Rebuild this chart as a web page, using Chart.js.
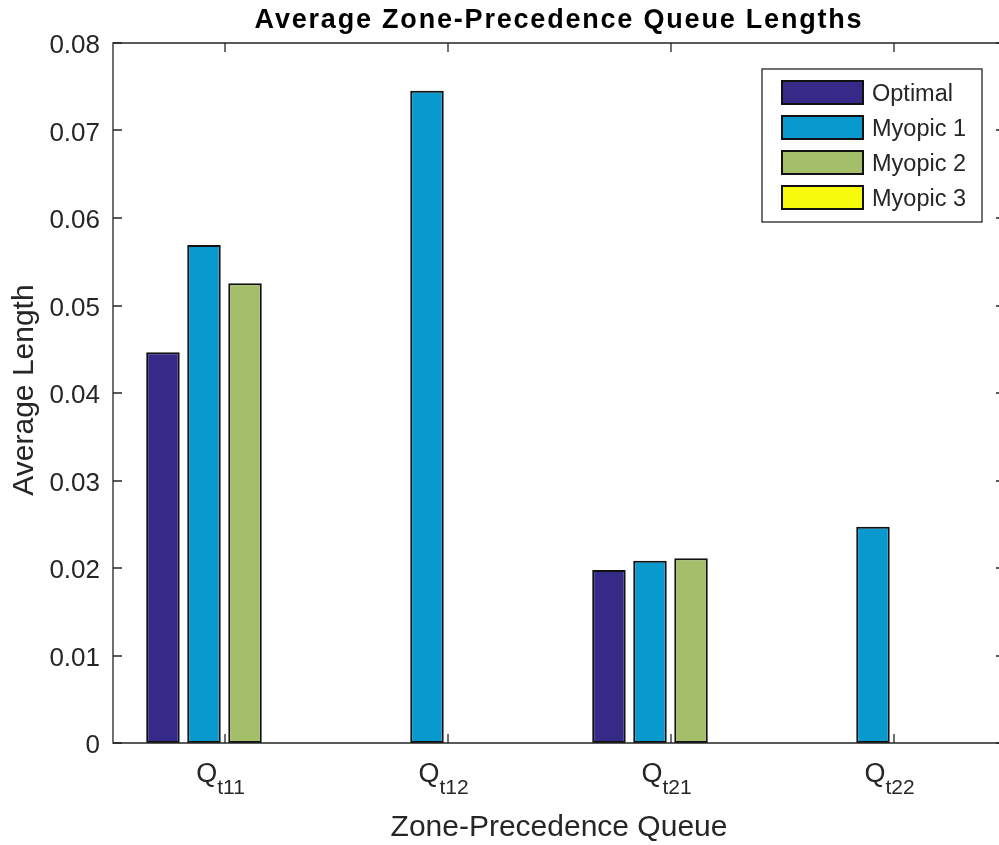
<!DOCTYPE html>
<html>
<head>
<meta charset="utf-8">
<script src="https://cdn.jsdelivr.net/npm/chart.js@4.4.1/dist/chart.umd.min.js"></script>
<style>
  html, body { margin: 0; padding: 0; background: #ffffff; overflow: hidden; }
  #wrap { width: 999px; height: 845px; overflow: hidden; }
</style>
</head>
<body>
<div id="wrap"><canvas id="c" width="1010" height="845"></canvas></div>
<script>
// ---- data ----
const queueMain = ['Q', 'Q', 'Q', 'Q'];
const queueSubs = ['t11', 't12', 't21', 't22'];
const seriesNames = ['Optimal', 'Myopic 1', 'Myopic 2', 'Myopic 3'];
const optimalVals = [0.04465, 0, 0.01977, 0];
const myopic1Vals = [0.05691, 0.07455, 0.02083, 0.02472];
const myopic2Vals = [0.05253, 0, 0.02111, 0];
const myopic3Vals = [0, 0, 0, 0];
const yTickValues = [0, 0.01, 0.02, 0.03, 0.04, 0.05, 0.06, 0.07, 0.08];
const titleText = 'Average Zone-Precedence Queue Lengths';
const xTitleText = 'Zone-Precedence Queue';
const yTitleText = 'Average Length';

// ---- styles ----
const FONT = '"Liberation Sans", Arial, Helvetica, sans-serif';
const AXIS_COLOR = '#262626';
const seriesColors = ['#352a87', '#0899cf', '#a5be6a', '#f8fa0d'];

const categories = queueMain.map((m, i) => m + queueSubs[i]);
const seriesData = [optimalVals, myopic1Vals, myopic2Vals, myopic3Vals];

const datasets = seriesNames.map((name, i) => ({
  label: name,
  data: seriesData[i],
  backgroundColor: seriesColors[i],
  borderColor: '#111111',
  borderWidth: 2,
  borderSkipped: false,
  categoryPercentage: 0.736,
  barPercentage: 0.817
}));

const decorPlugin = {
  id: 'decor',
  afterDraw(chart) {
    const ctx = chart.ctx;
    const ca = chart.chartArea;
    const xs = chart.scales.x;
    const ys = chart.scales.y;
    const L = Math.round(ca.left), R = Math.round(ca.right);
    const T = Math.round(ca.top), B = Math.round(ca.bottom);
    const TL = 9;
    ctx.save();
    ctx.strokeStyle = AXIS_COLOR;
    ctx.lineWidth = 1.3;
    // box
    ctx.beginPath();
    ctx.moveTo(L, T); ctx.lineTo(R, T); ctx.lineTo(R, B); ctx.lineTo(L, B); ctx.closePath();
    ctx.stroke();
    // y ticks inward (both sides)
    ctx.beginPath();
    yTickValues.forEach(v => {
      const y = Math.round(ys.getPixelForValue(v));
      ctx.moveTo(L, y); ctx.lineTo(L + TL, y);
      ctx.moveTo(R, y); ctx.lineTo(R - TL, y);
    });
    // x ticks inward (top and bottom)
    categories.forEach((c, i) => {
      const x = Math.round(xs.getPixelForValue(i));
      ctx.moveTo(x, B); ctx.lineTo(x, B - TL);
      ctx.moveTo(x, T); ctx.lineTo(x, T + TL);
    });
    ctx.stroke();

    // x tick labels with subscript
    ctx.fillStyle = AXIS_COLOR;
    ctx.textBaseline = 'alphabetic';
    ctx.textAlign = 'left';
    categories.forEach((c, i) => {
      const x = xs.getPixelForValue(i);
      ctx.font = '27px ' + FONT;
      const wm = ctx.measureText(queueMain[i]).width;
      ctx.font = '21px ' + FONT;
      const ws = ctx.measureText(queueSubs[i]).width;
      const x0 = x - 4 - (wm + ws) / 2;
      ctx.font = '27px ' + FONT;
      ctx.fillText(queueMain[i], x0, 782);
      ctx.font = '21px ' + FONT;
      ctx.fillText(queueSubs[i], x0 + wm, 794);
    });

    // x axis title
    ctx.font = '30px ' + FONT;
    ctx.textAlign = 'center';
    ctx.fillText(xTitleText, (ca.left + ca.right) / 2, 836);

    // y axis title
    ctx.save();
    ctx.translate(33, 390);
    ctx.rotate(-Math.PI / 2);
    ctx.font = '30px ' + FONT;
    ctx.textAlign = 'center';
    ctx.fillText(yTitleText, 0, 0);
    ctx.restore();

    // title
    ctx.fillStyle = '#000000';
    ctx.font = 'bold 27px ' + FONT;
    ctx.textAlign = 'left';
    try { ctx.letterSpacing = '1.8px'; } catch (e) {}
    const tw = ctx.measureText(titleText).width;
    ctx.fillText(titleText, 559 - tw / 2, 28);
    try { ctx.letterSpacing = '0px'; } catch (e) {}

    // legend
    const lx0 = 762, ly0 = 69, lx1 = 982, ly1 = 222;
    ctx.fillStyle = '#ffffff';
    ctx.fillRect(lx0, ly0, lx1 - lx0, ly1 - ly0);
    ctx.strokeStyle = AXIS_COLOR;
    ctx.lineWidth = 1.3;
    ctx.strokeRect(lx0, ly0, lx1 - lx0, ly1 - ly0);
    chart.data.datasets.forEach((ds, i) => {
      const cy = 92.5 + i * 35;
      ctx.fillStyle = ds.backgroundColor;
      ctx.fillRect(781, cy - 12.5, 83, 25);
      ctx.strokeStyle = '#111111';
      ctx.lineWidth = 2;
      ctx.strokeRect(782, cy - 11.5, 81, 23);
      ctx.fillStyle = AXIS_COLOR;
      ctx.font = '23.5px ' + FONT;
      ctx.textAlign = 'left';
      ctx.fillText(ds.label, 872, cy + 8.5);
    });
    ctx.restore();
  }
};

new Chart(document.getElementById('c'), {
  type: 'bar',
  data: { labels: categories, datasets },
  options: {
    responsive: false,
    animation: false,
    devicePixelRatio: 1,
    layout: { padding: { top: 43, right: 5, left: 0, bottom: 0 } },
    plugins: {
      legend: { display: false },
      title: { display: false },
      tooltip: { enabled: false }
    },
    scales: {
      x: {
        type: 'category',
        offset: true,
        grid: { display: false, drawTicks: false },
        border: { display: false },
        ticks: { display: false },
        afterFit: s => { s.height = 102; }
      },
      y: {
        min: 0,
        max: 0.08,
        grid: { display: false, drawTicks: false },
        border: { display: false },
        ticks: {
          stepSize: 0.01,
          padding: 13,
          labelOffset: 3,
          color: AXIS_COLOR,
          font: { size: 26, family: FONT },
          callback: v => (Math.abs(v) < 1e-9 ? '0' : Number(v).toFixed(2))
        },
        afterFit: s => { s.width = 113; }
      }
    }
  },
  plugins: [decorPlugin]
});
</script>
</body>
</html>
